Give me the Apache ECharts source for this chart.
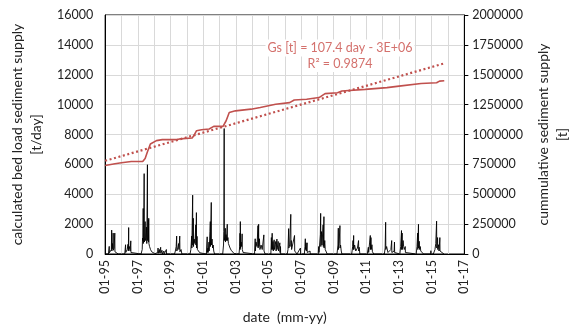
<!DOCTYPE html>
<html>
<head>
<meta charset="utf-8">
<script src="https://cdn.jsdelivr.net/npm/echarts@6/dist/echarts.min.js"></script>
<style>html,body{margin:0;padding:0;background:#fff}#c{width:580px;height:329px}</style>
</head>
<body>
<div id="c"></div>
<script>
// x values are decimal years
const yearTicks = [1995, 1997, 1999, 2001, 2003, 2005, 2007, 2009, 2011, 2013, 2015, 2017];
const leftTicks = [0, 2000, 4000, 6000, 8000, 10000, 12000, 14000, 16000];
const rightTicks = [0, 250000, 500000, 750000, 1000000, 1250000, 1500000, 1750000, 2000000];

// calculated bed load sediment supply [t/day]
const bedLoad = [
  [1995.00,0],[1995.20,0],[1995.24,120],[1995.25,510],[1995.26,80],[1995.30,200],[1995.38,300],[1995.40,1600],[1995.41,200],[1995.45,700],[1995.47,350],[1995.49,1400],[1995.50,250],[1995.55,400],[1995.59,1400],[1995.60,150],[1995.66,250],[1995.70,50],[1995.80,0],
  [1996.20,0],[1996.25,620],[1996.26,100],[1996.35,300],[1996.40,650],[1996.42,200],[1996.44,1770],[1996.45,300],[1996.50,500],[1996.53,200],[1996.57,880],[1996.58,100],[1996.65,150],[1996.70,0],
  [1997.20,0],[1997.27,300],[1997.29,1060],[1997.31,900],[1997.33,3050],[1997.34,700],[1997.36,1000],[1997.39,5380],[1997.40,800],[1997.43,1200],[1997.45,2170],[1997.47,900],[1997.50,1100],[1997.53,1800],[1997.55,700],[1997.59,5975],[1997.60,900],[1997.63,1400],[1997.65,2280],[1997.66,800],[1997.67,2390],[1997.68,700],[1997.72,500],[1997.78,300],[1997.85,150],[1997.95,60],[1998.05,20],[1998.15,0],
  [1998.22,100],[1998.24,400],[1998.25,50],[1998.32,300],[1998.34,80],[1998.40,450],[1998.41,60],[1998.48,250],[1998.50,0],[1998.60,200],[1998.61,0],[1998.75,300],[1998.76,0],
  [1999.25,0],[1999.30,200],[1999.35,500],[1999.38,1200],[1999.39,200],[1999.45,400],[1999.50,700],[1999.52,300],[1999.57,1200],[1999.58,150],[1999.65,300],[1999.70,0],
  [2000.20,0],[2000.25,300],[2000.30,1200],[2000.31,400],[2000.36,3940],[2000.37,600],[2000.40,2390],[2000.41,500],[2000.45,1000],[2000.50,700],[2000.55,1950],[2000.56,600],[2000.59,2770],[2000.60,400],[2000.63,1180],[2000.65,300],[2000.70,400],[2000.75,200],[2000.80,80],[2000.90,0],
  [2001.20,0],[2001.25,1150],[2001.26,100],[2001.30,400],[2001.31,100],[2001.36,800],[2001.37,200],[2001.42,1500],[2001.44,2170],[2001.45,500],[2001.50,3450],[2001.51,600],[2001.55,1000],[2001.58,400],[2001.62,600],[2001.65,200],[2001.70,0],
  [2002.20,0],[2002.25,600],[2002.27,1500],[2002.29,8400],[2002.30,900],[2002.33,1200],[2002.36,1720],[2002.37,800],[2002.40,1300],[2002.43,900],[2002.48,1990],[2002.49,900],[2002.52,1100],[2002.55,700],[2002.60,800],[2002.65,400],[2002.72,250],[2002.80,120],[2002.90,30],[2003.00,0],
  [2003.20,0],[2003.24,500],[2003.26,1390],[2003.27,300],[2003.28,2170],[2003.29,400],[2003.33,800],[2003.36,500],[2003.39,1350],[2003.40,300],[2003.45,100],[2003.50,0],
  [2004.15,0],[2004.19,1020],[2004.20,200],[2004.24,800],[2004.30,500],[2004.36,1900],[2004.37,400],[2004.40,1990],[2004.41,500],[2004.45,1020],[2004.48,300],[2004.55,600],[2004.62,300],[2004.72,1280],[2004.73,200],[2004.80,0],
  [2005.15,0],[2005.18,1100],[2005.20,300],[2005.23,1390],[2005.24,300],[2005.28,840],[2005.30,200],[2005.35,950],[2005.37,300],[2005.42,620],[2005.45,840],[2005.47,200],[2005.52,1000],[2005.53,300],[2005.60,840],[2005.62,200],[2005.70,750],[2005.71,100],[2005.74,500],[2005.75,0],
  [2006.15,0],[2006.20,300],[2006.24,1700],[2006.25,400],[2006.30,600],[2006.37,2655],[2006.38,500],[2006.40,900],[2006.42,300],[2006.50,400],[2006.60,1240],[2006.61,200],[2006.68,150],[2006.75,0],[2006.96,400],[2006.97,0],
  [2007.20,0],[2007.24,500],[2007.26,1020],[2007.27,300],[2007.30,750],[2007.32,200],[2007.37,750],[2007.38,100],[2007.45,0],[2007.55,200],[2007.56,0],
  [2008.05,0],[2008.08,500],[2008.10,100],[2008.15,200],[2008.18,1300],[2008.20,2720],[2008.21,500],[2008.25,1500],[2008.28,600],[2008.35,1950],[2008.36,500],[2008.40,2500],[2008.41,400],[2008.45,900],[2008.48,300],[2008.52,200],[2008.60,0],
  [2009.20,0],[2009.26,600],[2009.28,1730],[2009.29,300],[2009.33,700],[2009.38,1900],[2009.39,400],[2009.42,600],[2009.46,200],[2009.50,0],
  [2010.10,0],[2010.16,500],[2010.18,900],[2010.20,300],[2010.22,1240],[2010.23,300],[2010.28,600],[2010.35,200],[2010.45,400],[2010.52,900],[2010.53,200],[2010.56,450],[2010.60,0],
  [2011.05,0],[2011.12,450],[2011.14,100],[2011.20,800],[2011.24,1240],[2011.25,300],[2011.28,1100],[2011.30,300],[2011.34,620],[2011.37,150],[2011.45,0],
  [2012.10,0],[2012.15,400],[2012.18,2125],[2012.19,300],[2012.24,500],[2012.28,450],[2012.32,100],[2012.50,300],[2012.55,900],[2012.56,100],[2012.70,200],[2012.72,800],[2012.73,100],[2012.80,0],
  [2013.05,0],[2013.10,500],[2013.15,1570],[2013.16,300],[2013.19,1400],[2013.20,300],[2013.25,900],[2013.28,500],[2013.32,300],[2013.38,500],[2013.39,100],[2013.45,0],
  [2014.05,0],[2014.10,500],[2014.14,1400],[2014.15,300],[2014.19,1990],[2014.20,400],[2014.24,850],[2014.26,300],[2014.30,500],[2014.33,200],[2014.38,100],[2014.50,0],[2014.94,0],[2014.95,220],[2014.96,0],
  [2015.10,0],[2015.20,300],[2015.25,700],[2015.30,2200],[2015.31,400],[2015.36,1100],[2015.37,300],[2015.42,620],[2015.45,200],[2015.50,1100],[2015.51,200],[2015.55,300],[2015.60,100],[2015.75,0]
];

// cummulative sediment supply [t]
const cumulative = [
  [1995.00,741000],[1995.60,755000],[1996.00,763000],[1996.60,774000],[1997.30,774000],[1997.45,800000],[1997.58,852000],[1997.77,921000],[1998.14,949000],[1998.50,957000],[1999.38,957000],[1999.57,963000],[2000.33,971000],[2000.45,995000],[2000.60,1032000],[2000.90,1040000],[2001.37,1046000],[2001.65,1068000],[2002.22,1068000],[2002.41,1115000],[2002.60,1184000],[2002.98,1198000],[2003.93,1212000],[2004.50,1226000],[2005.44,1253000],[2006.30,1267000],[2006.58,1289000],[2007.34,1295000],[2008.10,1309000],[2008.47,1342000],[2009.23,1350000],[2009.50,1364000],[2010.93,1378000],[2012.26,1392000],[2013.00,1405000],[2014.35,1427000],[2015.30,1433000],[2015.48,1447000],[2015.77,1450000]
];

// linear trend: Gs [t] = 107.4 day - 3E+06
const trend = [[1995.00, 780000], [2015.77, 1595000]];
const trendLabel = ['Gs [t] = 107.4 day - 3E+06', 'R\u00B2 = 0.9874'];

const RED = '#C0504D';
const FONT = 'Lato';

const chart = echarts.init(document.getElementById('c'), null, {renderer: 'canvas'});
chart.setOption({
  animation: false,
  backgroundColor: '#fff',
  textStyle: {fontFamily: FONT},
  grid: {left: 95, right: 98, top: 15, bottom: 73, show: true, borderColor: '#000', borderWidth: 1, containLabel: false},
  xAxis: {
    type: 'value', min: yearTicks[0], max: yearTicks[yearTicks.length - 1], interval: 1,
    name: 'date  (mm-yy)', nameLocation: 'middle', nameGap: 56,
    nameTextStyle: {fontFamily: FONT, fontSize: 14, color: '#222'},
    axisLine: {show: true, lineStyle: {color: '#000', width: 1}},
    axisTick: {show: false},
    splitLine: {show: true, lineStyle: {color: '#d9d9d9', width: 1}},
    axisLabel: {
      rotate: 90, margin: 6, fontFamily: FONT, fontSize: 12.5, color: '#222',
      formatter: v => yearTicks.indexOf(v) >= 0 ? '01-' + String(v).slice(2) : ''
    }
  },
  yAxis: [{
    type: 'value', min: leftTicks[0], max: leftTicks[leftTicks.length - 1], interval: 2000,
    name: 'calculated bed load sediment supply\n[t/day]', nameLocation: 'middle', nameRotate: 90, nameGap: 50,
    nameTextStyle: {fontFamily: FONT, fontSize: 14, color: '#222', lineHeight: 19},
    axisLine: {show: true, lineStyle: {color: '#000', width: 1}},
    axisTick: {show: false},
    splitLine: {show: true, lineStyle: {color: '#d9d9d9', width: 1}},
    axisLabel: {margin: 12, fontFamily: FONT, fontSize: 12.5, color: '#222', formatter: v => String(v)}
  }, {
    type: 'value', position: 'right', min: rightTicks[0], max: rightTicks[rightTicks.length - 1], interval: 250000,
    name: 'cummulative sediment supply\n[t]', nameLocation: 'middle', nameRotate: 90, nameGap: 66,
    nameTextStyle: {fontFamily: FONT, fontSize: 14, color: '#222', lineHeight: 19},
    axisLine: {show: true, lineStyle: {color: '#000', width: 1}},
    axisTick: {show: true, length: 4, inside: false, lineStyle: {color: '#000'}},
    splitLine: {show: false},
    axisLabel: {margin: 8, fontFamily: FONT, fontSize: 12.5, color: '#222', formatter: v => String(v)}
  }],
  graphic: [{
    type: 'text', x: 340, y: 48, z: 10,
    style: {
      text: trendLabel[0], fill: '#d4716d', font: '12.5px Lato', align: 'center', verticalAlign: 'middle',
      backgroundColor: '#fff', padding: [2, 2, 2, 2]
    }
  }, {
    type: 'text', x: 340, y: 64, z: 10,
    style: {
      text: trendLabel[1], fill: '#d4716d', font: '12.5px Lato', align: 'center', verticalAlign: 'middle',
      backgroundColor: '#fff', padding: [1, 2, 2, 2]
    }
  }],
  series: [{
    type: 'line', yAxisIndex: 0, data: bedLoad, showSymbol: false, symbol: 'none',
    lineStyle: {color: '#000', width: 0.9}, z: 3
  }, {
    type: 'line', yAxisIndex: 1, data: cumulative, showSymbol: false, symbol: 'none',
    lineStyle: {color: RED, width: 1.6}, z: 4
  }, {
    type: 'line', yAxisIndex: 1, data: trend, showSymbol: false, symbol: 'none',
    lineStyle: {color: RED, width: 2.2, type: [2, 2.6]}, z: 4
  }]
});
</script>
</body>
</html>
